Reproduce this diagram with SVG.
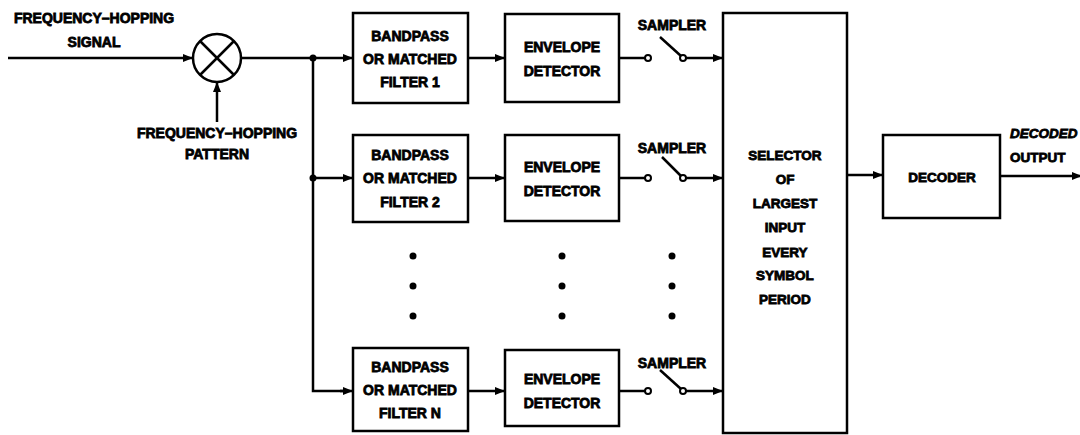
<svg xmlns="http://www.w3.org/2000/svg" width="1080" height="435" viewBox="0 0 1080 435">
  <defs>
    <marker id="arrow" markerUnits="userSpaceOnUse" markerWidth="11" markerHeight="9" refX="10" refY="4" orient="auto">
      <path d="M0,0 L10,4 L0,8 z" fill="#000"/>
    </marker>
    <style>
      .box { fill: #fff; stroke: #000; stroke-width: 2.5; }
      .wire { fill: none; stroke: #000; stroke-width: 2.5; }
      .arr { fill: none; stroke: #000; stroke-width: 2.5; marker-end: url(#arrow); }
      .lbl { font-family: "Liberation Sans", Arial, sans-serif; font-weight: bold; font-size: 14px; fill: #000; stroke: #000; stroke-width: 0.8; text-anchor: middle; }
      .sm { font-size: 13.5px; }
      .it { font-style: italic; text-anchor: start; }
      .st { text-anchor: start; }
      .term { fill: #fff; stroke: #000; stroke-width: 2; }
      .dot { fill: #000; }
    </style>
  </defs>

  <rect width="1080" height="435" fill="#fff"/>

  <!-- connectors -->
  <g id="connectors">
    <!-- input signal into mixer -->
    <line class="arr" x1="8" y1="58" x2="193" y2="58"/>
    <!-- hopping pattern into mixer -->
    <line class="arr" x1="217" y1="122" x2="217" y2="82"/>
    <!-- mixer output and branching bus -->
    <line class="arr" x1="241" y1="58" x2="353" y2="58"/>
    <polyline class="wire" points="313,58 313,391 343,391"/>
    <line class="arr" x1="313" y1="178" x2="353" y2="178"/>
    <line class="arr" x1="340" y1="391" x2="353" y2="391"/>
    <circle class="dot" cx="313" cy="58" r="3.5"/>
    <circle class="dot" cx="313" cy="178" r="3.5"/>
    <!-- filter to envelope detector -->
    <line class="arr" x1="468" y1="58" x2="505" y2="58"/>
    <line class="arr" x1="468" y1="178" x2="505" y2="178"/>
    <line class="arr" x1="468" y1="391" x2="505" y2="391"/>
    <!-- detector to sampler -->
    <line class="wire" x1="619" y1="58" x2="645" y2="58"/>
    <line class="wire" x1="619" y1="178" x2="645" y2="178"/>
    <line class="wire" x1="619" y1="391" x2="645" y2="391"/>
    <!-- sampler switch blades -->
    <line class="wire" x1="660" y1="37" x2="681" y2="56"/>
    <line class="wire" x1="662" y1="157" x2="681" y2="176"/>
    <line class="wire" x1="660" y1="370" x2="681" y2="389"/>
    <!-- sampler to selector -->
    <line class="arr" x1="686" y1="58" x2="723" y2="58"/>
    <line class="arr" x1="686" y1="178" x2="723" y2="178"/>
    <line class="arr" x1="686" y1="391" x2="723" y2="391"/>
    <!-- sampler contacts -->
    <circle class="term" cx="648" cy="58" r="3"/>
    <circle class="term" cx="683" cy="58" r="3"/>
    <circle class="term" cx="648" cy="178" r="3"/>
    <circle class="term" cx="683" cy="178" r="3"/>
    <circle class="term" cx="648" cy="391" r="3"/>
    <circle class="term" cx="683" cy="391" r="3"/>
    <!-- selector to decoder, decoder output -->
    <line class="arr" x1="847" y1="175" x2="883" y2="175"/>
    <line class="arr" x1="1000" y1="176" x2="1082" y2="176"/>
  </g>

  <!-- ellipsis dots between channel 2 and channel N -->
  <g id="ellipsis">
    <circle class="dot" cx="413" cy="256" r="3.5"/>
    <circle class="dot" cx="413" cy="286" r="3.5"/>
    <circle class="dot" cx="413" cy="316" r="3.5"/>
    <circle class="dot" cx="562" cy="256" r="3.5"/>
    <circle class="dot" cx="562" cy="286" r="3.5"/>
    <circle class="dot" cx="562" cy="316" r="3.5"/>
    <circle class="dot" cx="672" cy="256" r="3.5"/>
    <circle class="dot" cx="672" cy="286" r="3.5"/>
    <circle class="dot" cx="672" cy="316" r="3.5"/>
  </g>

  <!-- input labels -->
  <g id="input-signal">
    <text class="lbl" x="94" y="23">FREQUENCY–HOPPING</text>
    <text class="lbl" x="94" y="47">SIGNAL</text>
  </g>

  <g id="mixer">
    <circle cx="217" cy="58" r="24" fill="#fff" stroke="#000" stroke-width="2.5"/>
    <line class="wire" x1="200" y1="41" x2="234" y2="75"/>
    <line class="wire" x1="234" y1="41" x2="200" y2="75"/>
  </g>

  <g id="hopping-pattern">
    <text class="lbl" x="217" y="138">FREQUENCY–HOPPING</text>
    <text class="lbl" x="217" y="159">PATTERN</text>
  </g>

  <!-- channel 1 -->
  <g id="filter-1">
    <rect class="box" x="353" y="13" width="115" height="90"/>
    <text class="lbl" x="410" y="41">BANDPASS</text>
    <text class="lbl" x="410" y="64">OR MATCHED</text>
    <text class="lbl" x="410" y="87">FILTER 1</text>
  </g>
  <g id="detector-1">
    <rect class="box" x="505" y="14" width="114" height="88"/>
    <text class="lbl" x="562" y="52">ENVELOPE</text>
    <text class="lbl" x="562" y="76">DETECTOR</text>
  </g>
  <g id="sampler-1">
    <text class="lbl" x="672" y="30">SAMPLER</text>
  </g>

  <!-- channel 2 -->
  <g id="filter-2">
    <rect class="box" x="353" y="135" width="115" height="87"/>
    <text class="lbl" x="410" y="160">BANDPASS</text>
    <text class="lbl" x="410" y="183">OR MATCHED</text>
    <text class="lbl" x="410" y="207">FILTER 2</text>
  </g>
  <g id="detector-2">
    <rect class="box" x="505" y="135" width="114" height="86"/>
    <text class="lbl" x="562" y="172">ENVELOPE</text>
    <text class="lbl" x="562" y="196">DETECTOR</text>
  </g>
  <g id="sampler-2">
    <text class="lbl" x="672" y="153">SAMPLER</text>
  </g>

  <!-- channel N -->
  <g id="filter-n">
    <rect class="box" x="353" y="348" width="115" height="83"/>
    <text class="lbl" x="410" y="372">BANDPASS</text>
    <text class="lbl" x="410" y="395">OR MATCHED</text>
    <text class="lbl" x="410" y="418">FILTER N</text>
  </g>
  <g id="detector-n">
    <rect class="box" x="505" y="350" width="114" height="76"/>
    <text class="lbl" x="562" y="384">ENVELOPE</text>
    <text class="lbl" x="562" y="408">DETECTOR</text>
  </g>
  <g id="sampler-n">
    <text class="lbl" x="672" y="368">SAMPLER</text>
  </g>

  <g id="selector">
    <rect class="box" x="723" y="13" width="124" height="420"/>
    <text class="lbl sm" x="785" y="160">SELECTOR</text>
    <text class="lbl sm" x="785" y="184">OF</text>
    <text class="lbl sm" x="785" y="208">LARGEST</text>
    <text class="lbl sm" x="785" y="232">INPUT</text>
    <text class="lbl sm" x="785" y="257">EVERY</text>
    <text class="lbl sm" x="785" y="280">SYMBOL</text>
    <text class="lbl sm" x="785" y="304">PERIOD</text>
  </g>

  <g id="decoder">
    <rect class="box" x="883" y="135" width="117" height="83"/>
    <text class="lbl sm" x="942" y="182">DECODER</text>
  </g>

  <g id="decoded-output">
    <text class="lbl sm it" x="1010" y="138">DECODED</text>
    <text class="lbl sm st" x="1010" y="162">OUTPUT</text>
  </g>
</svg>
